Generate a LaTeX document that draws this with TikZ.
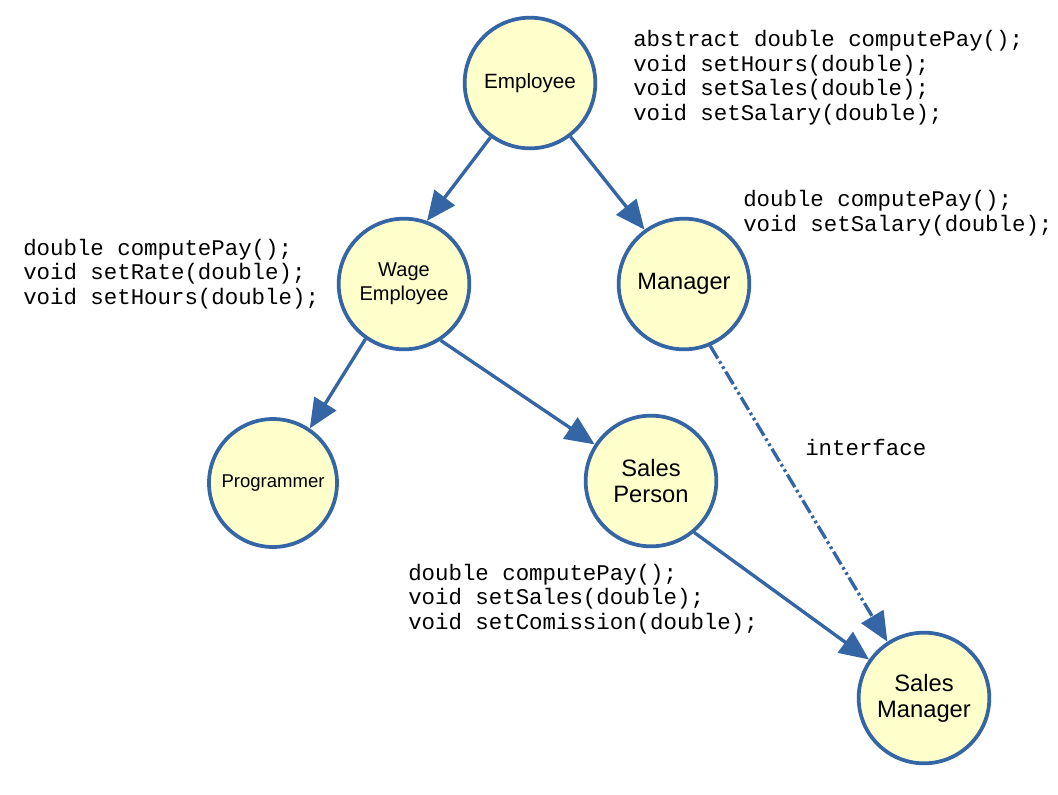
\documentclass[tikz,border=0pt]{standalone}
\usepackage{fontspec}
\setmainfont{Liberation Sans}
\newfontfamily\codefont{Liberation Mono}
\usetikzlibrary{arrows.meta}
\definecolor{nodeblue}{HTML}{3465A4}
\definecolor{nodefill}{HTML}{FFFFCC}
\tikzset{
  cls/.style={circle, draw=nodeblue, fill=nodefill, line width=2.8pt, minimum size=98pt, inner sep=0pt, align=center, text=black},
  codetext/.style={anchor=base west, inner sep=0pt, align=left, font=\codefont\fontsize{16.8pt}{18.3pt}\selectfont},
  conn/.style={draw=nodeblue, line width=2.5pt, -{Triangle[length=22pt,width=19pt]}},
  iface/.style={conn, dash pattern=on 11pt off 2.5pt on 2pt off 2.5pt on 2pt off 2.5pt}
}
\begin{document}
\begin{tikzpicture}[x=0.75pt,y=-0.75pt]
\useasboundingbox (0,0) rectangle (1058,794);
\fill[white] (0,0) rectangle (1058,794);

\node[cls, font=\fontsize{15.5pt}{18pt}\selectfont] (emp) at (530,83) {Employee};
\node[cls, font=\fontsize{15pt}{18pt}\selectfont] (wage) at (404,284) {Wage\\Employee};
\node[cls, font=\fontsize{17.7pt}{19.5pt}\selectfont] (mgr) at (684,284) {Manager};
\node[cls, minimum size=96pt, font=\fontsize{13.9pt}{16pt}\selectfont] (prog) at (273,483) {Programmer};
\node[cls, font=\fontsize{17.8pt}{19.5pt}\selectfont] (sp) at (651,481) {Sales\\Person};
\node[cls, font=\fontsize{17.8pt}{19.5pt}\selectfont] (sm) at (924,698) {Sales\\Manager};

\node[codetext] (c1) at (633,120) {abstract double computePay();\\void setHours(double);\\void setSales(double);\\void setSalary(double);};
\node[codetext] (c2) at (743,231) {double computePay();\\void setSalary(double);};
\node[codetext] (c3) at (23,304) {double computePay();\\void setRate(double);\\void setHours(double);};
\node[codetext] (c4) at (408,629) {double computePay();\\void setSales(double);\\void setComission(double);};
\node[codetext] (ifl) at (805,455) {interface};

\draw[conn] (emp.234) -- (wage.70);
\draw[conn] (emp.307) -- (mgr.126);
\draw[conn] (wage.235) -- (prog.56);
\draw[conn] (wage.303) -- (sp.147);
\draw[conn] (sp.310) -- (sm.145);
\draw[iface] (mgr.293) -- (sm.123);
\end{tikzpicture}
\end{document}
